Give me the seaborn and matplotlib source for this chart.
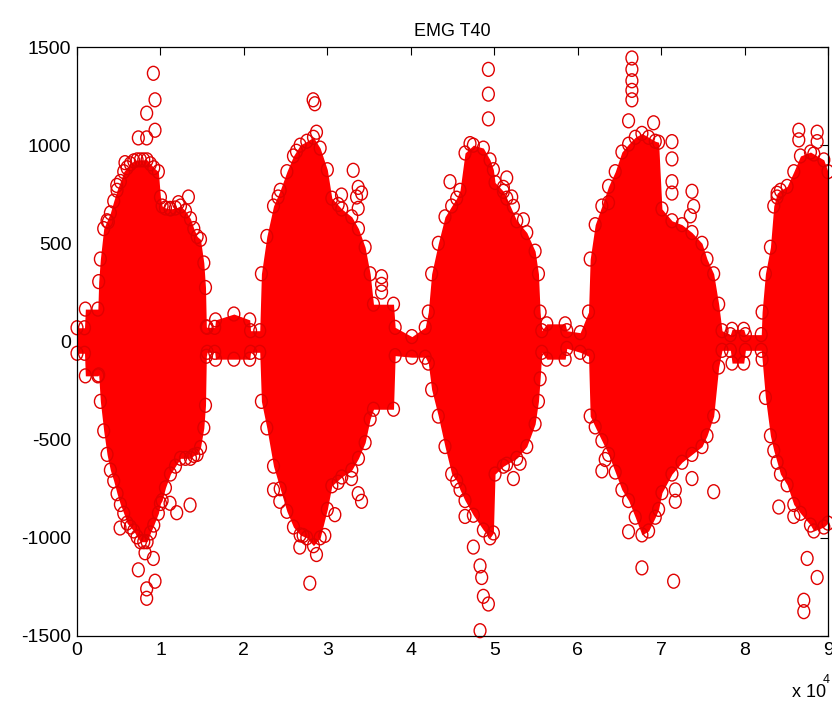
import numpy as np
import pandas as pd
import matplotlib
matplotlib.use("Agg")
import matplotlib.pyplot as plt
from matplotlib.path import Path
from matplotlib.transforms import Affine2D
from matplotlib import font_manager
import seaborn as sns

# Envelope of the EMG record: sample index, upper and lower extent of the dense trace
sample_idx = [0, 900, 1000, 2500, 2600, 2800, 3200, 3600, 4000, 4400, 4800, 5200, 5600,
              6000, 6400, 6800, 7200, 7600, 8000, 8400, 8800, 9200, 9750, 10000, 10200,
              10600, 11200, 11800, 12400, 13000, 13600, 14000, 14400, 14800, 15200, 15400,
              15500, 15600, 16500, 16600, 18800, 20700, 20800, 21900, 22100, 22750, 23550,
              24350, 25150, 25940, 26740, 27540, 28340, 29140, 30000, 30540, 31730, 32930,
              33730, 34530, 35130, 35530, 37930, 38130, 40130, 41730, 42100, 42500, 43300,
              44100, 44900, 45500, 45900, 46500, 47500, 48700, 49500, 49900, 50100, 51100,
              51500, 52700, 53900, 54900, 55300, 55500, 55700, 56300, 58500, 58700, 60300,
              61300, 61500, 62100, 62900, 63700, 64500, 65300, 66100, 66900, 67700, 68500,
              69300, 69700, 70100, 71300, 72500, 73700, 74900, 75500, 76300, 76900, 77300,
              78300, 78500, 79900, 80100, 82000, 82100, 82500, 83100, 83500, 83900, 84300,
              85100, 85900, 86700, 87900, 88300, 89500, 90000]
upper_env = [70, 70, 165, 165, 305, 420, 575, 615, 655, 715, 770, 815, 865,
             885, 905, 920, 925, 925, 925, 925, 905, 885, 865, 735, 690,
             680, 675, 680, 690, 665, 625, 575, 535, 520, 400, 275,
             75, 72, 72, 110, 140, 110, 55, 55, 345, 535, 690,
             770, 865, 945, 1000, 1020, 1040, 985, 875, 730, 675, 635,
             575, 480, 345, 190, 190, 72, 25, 72, 150, 345, 500,
             635, 690, 730, 770, 960, 1000, 985, 925, 875, 810, 765,
             730, 615, 555, 460, 345, 150, 55, 90, 90, 55, 45,
             150, 420, 595, 690, 790, 865, 965, 1005, 1040, 1060, 1040,
             1020, 1015, 675, 615, 595, 555, 500, 420, 345, 190, 55,
             35, 62, 62, 35, 35, 150, 345, 480, 690, 755, 770,
             790, 865, 945, 965, 955, 925, 865]
lower_env = [-60, -60, -175, -175, -170, -305, -455, -575, -655, -710, -775, -830, -875,
             -925, -945, -965, -995, -1020, -1020, -1020, -975, -935, -875, -825, -810,
             -745, -675, -635, -595, -595, -595, -580, -575, -540, -440, -325,
             -75, -55, -55, -90, -90, -90, -55, -55, -305, -440, -635,
             -750, -865, -945, -985, -1000, -1040, -1000, -855, -735, -690, -655,
             -595, -515, -395, -345, -345, -72, -80, -80, -110, -245, -380,
             -535, -675, -710, -755, -810, -885, -960, -1000, -975, -675, -635,
             -625, -595, -535, -420, -305, -190, -55, -90, -90, -35, -55,
             -75, -380, -435, -505, -575, -665, -755, -810, -895, -985, -965,
             -895, -855, -770, -675, -615, -575, -535, -480, -380, -130, -45,
             -45, -110, -110, -45, -45, -90, -285, -480, -555, -615, -675,
             -730, -830, -875, -935, -965, -945, -925]

# Isolated large-amplitude samples standing out from the trace
spike_idx = [9150, 9350, 8350, 7350, 8350, 9350, 5750, 4760, 3760, 13350, 12150, 11150,
             5160, 8150, 7350, 9150, 8350, 9350, 8350, 11150, 11950, 13550,
             28300, 28500, 28700, 26300, 24100, 27900, 26700, 28700, 24300, 23550, 27100,
             33100, 33700, 34100, 33500, 31700, 31300, 33700, 36500, 36500, 36500, 44700,
             31300, 32900, 33700, 34100, 30900, 29700,
             49300, 49300, 49300, 47100, 51500, 51100, 52100, 52300, 53500,
             48300, 48500, 48700, 49300, 48300, 46500, 52300, 53100, 47500,
             66500, 66500, 66500, 66500, 66500, 66100, 69100, 71300, 71300, 71300, 71300,
             73700, 73900, 73500, 63700,
             71500, 67700, 73700, 71700, 71700, 66100, 63300, 62900, 76300,
             86500, 86500, 88700, 88700, 83900,
             87100, 87100, 87500, 88700, 84100, 85900]
spike_val = [1366, 1231, 1163, 1037, 1037, 1076, 911, 795, 610, 736, 707, 678,
             -950, -1076, -1163, -1105, -1260, -1221, -1308, -824, -872, -833,
             1231, 1211, 1066, 969, 736, -1231, -1047, -1085, -814, -756, -988,
             872, 785, 756, 736, 746, 698, 678, 330, 291, 252, 814,
             -717, -698, -775, -814, -882, -988,
             1386, 1260, 1134, 1008, 833, 785, 736, 688, 620,
             -1143, -1202, -1298, -1337, -1473, -891, -698, -620, -1047,
             1444, 1386, 1328, 1279, 1231, 1124, 1114, 1018, 930, 814, 756,
             765, 688, 640, 707,
             -1221, -1153, -698, -756, -814, -969, -601, -659, -765,
             1076, 1027, 1066, 1018, 736,
             -1318, -1376, -1105, -1202, -843, -891]

x_ticks = [0, 10000, 20000, 30000, 40000, 50000, 60000, 70000, 80000, 90000]
x_tick_labels = ["0", "1", "2", "3", "4", "5", "6", "7", "8", "9"]
y_ticks = [-1500, -1000, -500, 0, 500, 1000, 1500]
y_tick_labels = ["-1500", "-1000", "-500", "0", "500", "1000", "1500"]

sns.set_theme(style="white")
installed = {f.name for f in font_manager.fontManager.ttflist}
family = [f for f in ["Liberation Sans Narrow", "Liberation Sans", "DejaVu Sans"] if f in installed]
plt.rcParams["font.family"] = family
plt.rcParams["text.color"] = "black"
plt.rcParams["axes.titlecolor"] = "black"

points = pd.DataFrame({
    "sample": sample_idx + sample_idx + spike_idx,
    "value": upper_env + lower_env + spike_val,
})

# slightly tall open ring, like the stretched circles of the trace
ring = Path.unit_circle().transformed(Affine2D().scale(0.85, 1.0))

fig = plt.figure(figsize=(8.32, 7.13), dpi=100)
ax = fig.add_axes([77 / 832, 77 / 713, 751 / 832, 589 / 713])

ax.fill_between(sample_idx, lower_env, upper_env, color="#ff0000", linewidth=0, zorder=2)
sns.scatterplot(data=points, x="sample", y="value", ax=ax, marker=ring, s=100,
                facecolors="none", edgecolor="#e00000", linewidth=1.0,
                clip_on=False, zorder=3, legend=False)

ax.set_xlim(0, 90000)
ax.set_ylim(-1500, 1500)
ax.set_xticks(x_ticks)
ax.set_xticklabels(x_tick_labels)
ax.set_yticks(y_ticks)
ax.set_yticklabels(y_tick_labels)
ax.set_xlabel("")
ax.set_ylabel("")
ax.tick_params(direction="in", length=6, width=0.8, colors="black",
               top=True, right=True, labelsize=14, pad=4)
for sp in ax.spines.values():
    sp.set_visible(True)
    sp.set_color("black")
    sp.set_linewidth(0.9)
    sp.set_zorder(5)
ax.grid(False)
ax.set_title("EMG T40", fontsize=13, pad=8, color="black")

fig.text(0.952, 0.022, "x 10", fontsize=13, ha="left", va="baseline", color="black")
fig.text(0.989, 0.042, "4", fontsize=9, ha="left", va="baseline", color="black")

fig.savefig("out.png", dpi=100, facecolor="white")
